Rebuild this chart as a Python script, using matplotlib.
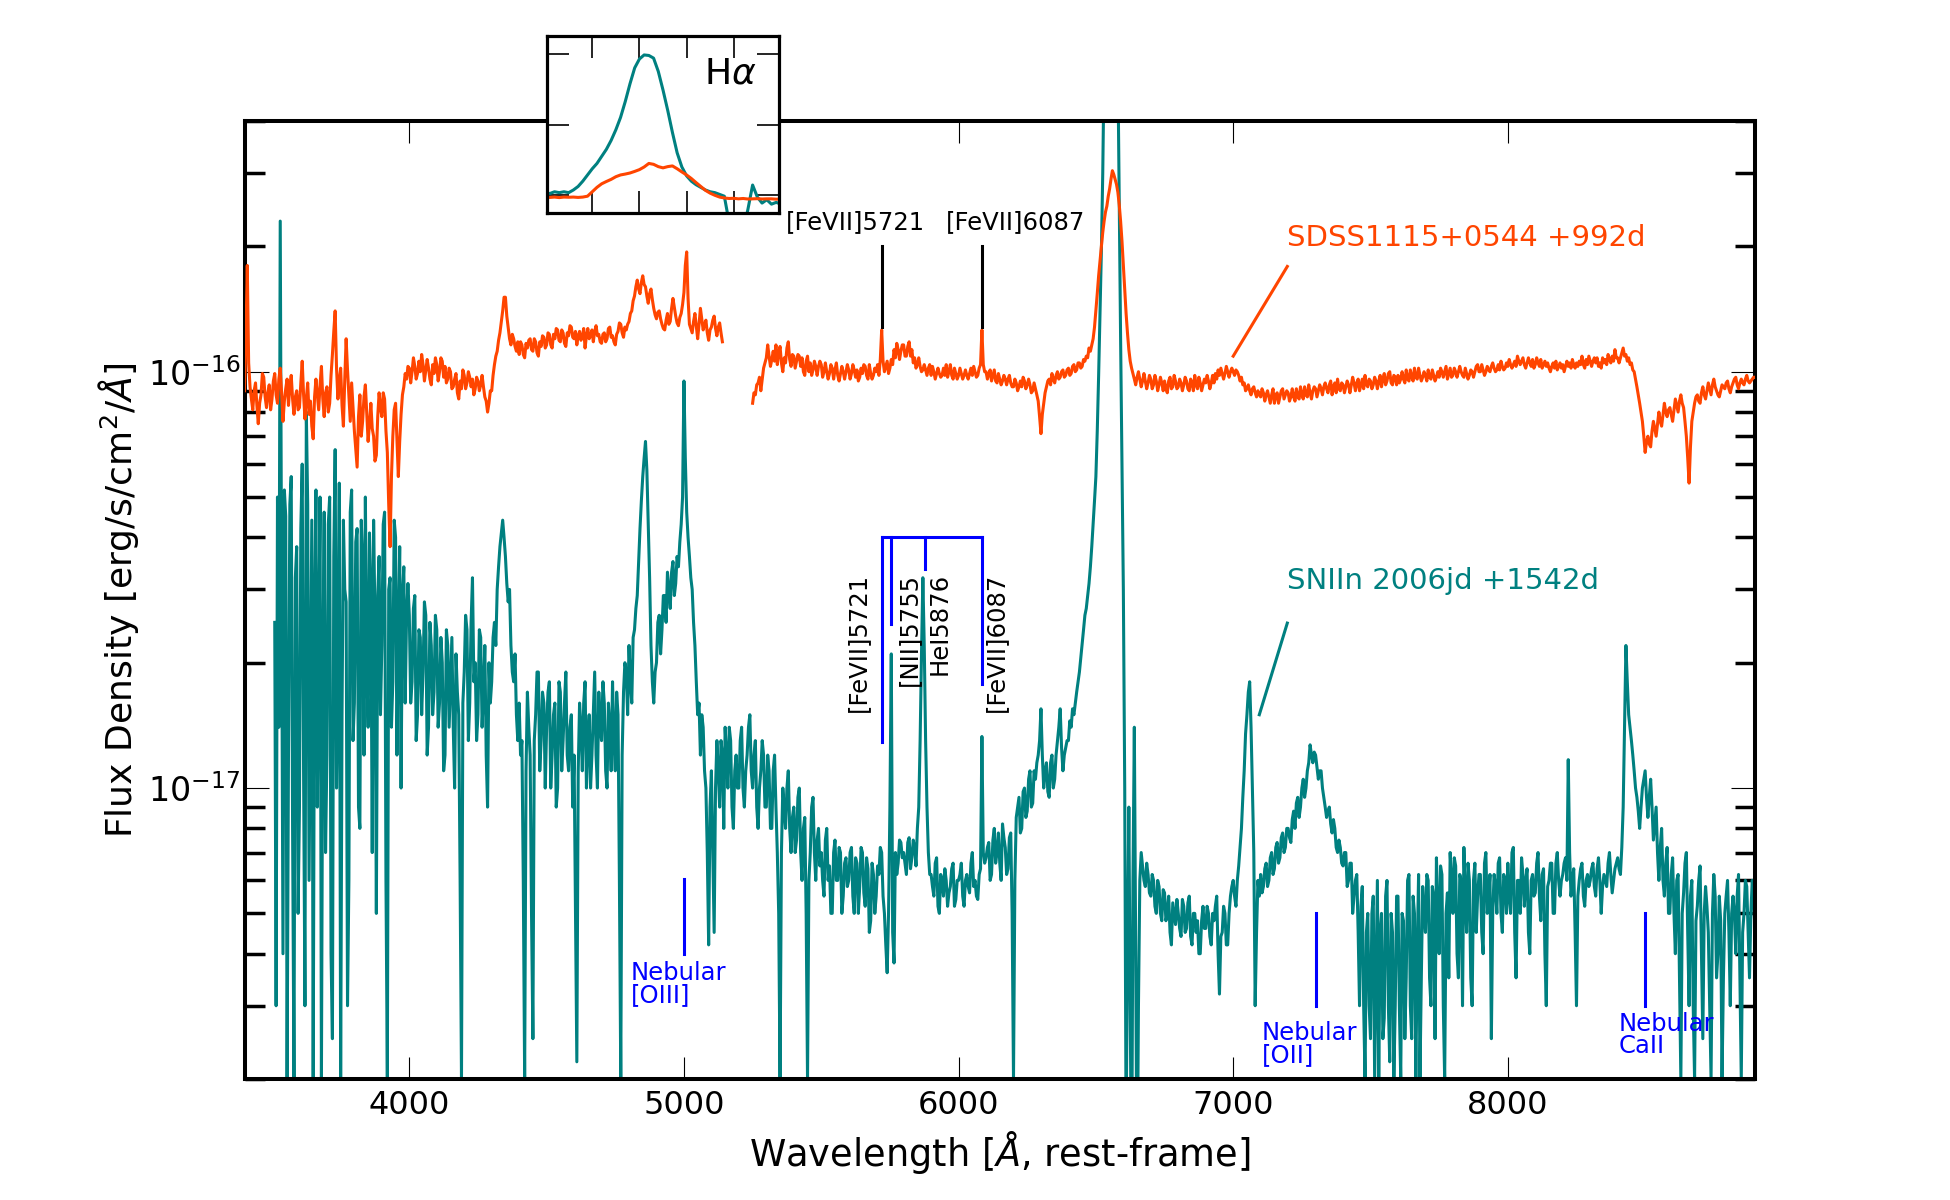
import numpy as np
import matplotlib
matplotlib.use("Agg")
import matplotlib.pyplot as plt
from matplotlib.ticker import NullFormatter

plt.rcParams["axes.unicode_minus"] = False
nan = np.nan

# ---------------- data (flux in units of 1e-17 erg/s/cm^2/A) ----------------
FLUX_UNIT = 1e-17

# SDSS1115+0544 +992d : 5 A grid starting at 3400 A (one row = 100 A)
orange_wave_start, orange_wave_step = 3400, 5
orange_flux = [
    9.0, 12.0, 18.0, 10.5, 9.2, 8.6, 8.1, 9.0, 9.4, 8.3, 7.5, 8.4, 8.8, 9.9, 9.7, 8.7, 8.2, 8.9, 9.3, 8.1,          # 3400
    8.6, 9.5, 9.9, 8.8, 8.4, 9.6, 10.2, 8.9, 7.6, 8.5, 9.1, 9.6, 8.3, 9.2, 9.8, 8.6, 7.9, 8.7, 9.0, 8.1,           # 3500
    8.2, 9.4, 10.6, 8.8, 7.7, 8.6, 9.4, 7.9, 8.5, 7.4, 6.9, 8.7, 9.6, 8.8, 8.1, 9.3, 10.3, 8.6, 7.8, 8.9,          # 3600
    9.2, 8.0, 8.4, 9.8, 11.0, 12.5, 14.0, 10.2, 8.6, 9.5, 10.2, 8.3, 7.4, 9.6, 12.0, 10.1, 8.8, 7.6, 9.4, 8.2,     # 3700
    7.2, 6.5, 5.9, 7.8, 8.8, 7.0, 7.6, 8.7, 9.3, 7.9, 6.8, 7.5, 8.4, 7.3, 7.0, 6.1, 6.3, 7.8, 8.9, 8.2,            # 3800
    7.8, 8.9, 8.6, 7.2, 6.4, 4.8, 3.8, 5.6, 7.0, 8.1, 8.4, 6.9, 5.6, 6.8, 7.9, 8.8, 9.2, 9.9, 9.6, 10.3,           # 3900
    10.2, 9.4, 10.0, 10.8, 10.3, 9.6, 9.9, 10.6, 10.0, 11.0, 10.4, 9.5, 10.1, 10.7, 10.2, 9.6, 9.3, 10.4, 9.9, 10.8,   # 4000
    10.4, 9.5, 10.0, 10.8, 10.6, 9.7, 10.3, 9.4, 9.6, 10.2, 10.0, 9.1, 9.2, 9.6, 9.9, 8.9, 8.6, 9.5, 9.1, 10.1,       # 4100
    9.8, 9.1, 9.4, 10.0, 9.7, 9.2, 9.6, 8.8, 9.1, 9.7, 9.5, 9.0, 9.3, 9.8, 9.2, 8.7, 8.5, 8.0, 8.4, 9.0,              # 4200
    9.0, 9.8, 10.4, 10.9, 11.2, 11.9, 12.4, 13.2, 14.0, 15.1, 15.1, 13.6, 12.8, 12.0, 11.6, 12.3, 12.0, 11.5, 11.2, 11.8,  # 4300
    11.0, 11.8, 11.6, 11.0, 10.8, 11.7, 11.4, 11.9, 12.0, 11.3, 11.2, 12.0, 11.8, 11.1, 10.9, 11.8, 11.5, 12.2, 12.1, 11.4,  # 4400
    11.6, 12.4, 12.3, 11.6, 11.4, 12.3, 12.0, 12.7, 12.6, 11.9, 11.8, 12.6, 12.4, 11.7, 11.5, 12.4, 12.2, 12.9, 12.8, 12.1,  # 4500
    12.0, 12.5, 11.6, 12.2, 12.5, 11.9, 12.1, 12.7, 11.4, 12.2, 12.7, 12.0, 12.2, 12.6, 11.8, 12.5, 12.9, 12.2, 12.3, 11.8,  # 4600
    11.7, 12.3, 12.4, 11.8, 12.0, 12.7, 12.8, 12.1, 12.2, 11.8, 11.6, 12.3, 12.5, 13.1, 13.0, 12.4, 12.1, 12.8, 12.6, 13.0,  # 4700
    13.2, 13.8, 14.0, 14.8, 15.2, 16.0, 16.6, 15.8, 15.4, 16.4, 17.0, 16.2, 16.0, 15.2, 14.6, 15.4, 15.8, 14.9, 14.2, 13.7,  # 4800
    13.4, 13.9, 14.0, 13.4, 13.0, 12.7, 12.6, 13.3, 13.8, 13.0, 13.2, 14.2, 15.0, 14.3, 13.6, 13.1, 12.9, 13.5, 13.8, 14.5,  # 4900
    15.5, 18.0, 19.4, 15.0, 13.0, 12.7, 12.4, 13.2, 13.8, 12.9, 12.0, 13.0, 14.2, 13.4, 12.6, 13.0, 13.3, 12.4, 11.9, 12.6,  # 5000
    12.8, 13.3, 13.6, 12.7, 12.2, 12.8, 13.1, 12.4, 11.8, nan, nan, nan, nan, nan, nan, nan, nan, nan, nan, nan,            # 5100
    nan, nan, nan, nan, nan, nan, nan, nan, nan, nan, 8.4, 8.9, 8.8, 9.3, 9.4, 9.7, 9.0, 9.6, 10.2, 10.5,                  # 5200
    10.8, 11.6, 10.9, 10.3, 10.7, 11.2, 10.6, 11.6, 10.4, 11.1, 11.5, 10.5, 10.0, 10.8, 10.5, 11.4, 11.8, 10.7, 10.3, 11.0,  # 5300
    10.9, 10.2, 10.6, 11.0, 10.9, 10.3, 10.8, 10.0, 9.8, 10.6, 10.9, 10.0, 10.5, 9.8, 10.1, 10.6, 10.3, 9.8, 10.3, 10.6,    # 5400
    10.4, 9.7, 10.0, 10.5, 10.0, 9.6, 9.9, 10.4, 10.2, 9.6, 10.1, 10.5, 9.8, 9.5, 9.9, 10.3, 10.0, 9.6, 10.0, 10.4,        # 5500
    10.1, 9.6, 9.9, 10.4, 10.1, 9.7, 10.1, 9.5, 9.7, 10.2, 9.9, 10.4, 10.3, 9.8, 9.6, 10.4, 9.9, 9.6, 9.8, 10.2,           # 5600
    10.0, 10.4, 9.8, 10.7, 12.6, 10.6, 10.0, 10.3, 10.6, 9.9, 10.2, 10.7, 10.4, 11.3, 10.8, 11.7, 11.3, 10.7, 11.2, 11.6,  # 5700
    11.6, 10.9, 10.9, 11.5, 11.8, 10.9, 11.3, 10.5, 10.8, 10.2, 10.4, 10.8, 10.3, 10.0, 10.1, 10.4, 10.1, 9.8, 10.2, 10.4, # 5800
    9.8, 10.3, 10.0, 9.6, 9.9, 10.2, 9.9, 9.7, 9.8, 10.2, 9.8, 10.4, 9.7, 10.0, 10.4, 9.8, 9.6, 10.2, 9.9, 9.6,            # 5900
    9.8, 10.2, 9.9, 9.6, 9.8, 10.1, 9.8, 9.6, 9.9, 10.2, 9.8, 10.3, 10.0, 9.7, 9.8, 10.2, 10.4, 12.6, 10.4, 10.0,          # 6000
    10.0, 9.6, 9.9, 10.1, 9.5, 9.8, 10.1, 9.5, 9.4, 9.9, 9.6, 9.3, 9.5, 9.8, 9.6, 9.3, 9.6, 9.8, 9.4, 9.2,                 # 6100
    9.2, 9.6, 9.4, 9.0, 9.2, 9.5, 9.2, 9.7, 9.5, 9.1, 9.3, 9.6, 9.3, 8.9, 9.0, 9.4, 9.1, 8.8, 8.5, 7.8,                    # 6200
    7.1, 7.9, 8.4, 8.9, 9.2, 9.5, 9.6, 9.3, 9.9, 9.6, 9.4, 9.8, 10.0, 9.6, 9.7, 10.0, 10.1, 9.7, 9.8, 10.1,                # 6300
    10.2, 9.8, 9.9, 10.3, 10.4, 10.0, 10.1, 10.5, 10.5, 10.2, 10.3, 10.7, 10.6, 10.9, 10.8, 11.4, 11.2, 11.6, 12.0, 12.8,   # 6400
    14.0, 15.4, 17.0, 18.5, 20.0, 21.6, 23.0, 24.2, 25.0, 26.4, 27.5, 29.0, 30.4, 29.8, 29.0, 28.2, 27.0, 25.2, 23.0, 20.6,  # 6500
    18.0, 15.8, 13.8, 12.4, 11.3, 10.6, 10.2, 9.9, 9.6, 9.3, 9.7, 10.0, 9.6, 9.2, 9.5, 9.9, 9.5, 9.1, 9.4, 9.8,            # 6600
    9.6, 9.1, 9.3, 9.8, 9.5, 9.0, 9.3, 9.7, 9.4, 9.0, 9.5, 9.1, 8.9, 9.5, 9.7, 9.1, 9.2, 9.8, 9.5, 9.1,                    # 6700
    9.2, 9.6, 9.4, 9.0, 9.3, 9.7, 9.5, 9.1, 9.0, 9.6, 9.4, 9.0, 9.8, 9.3, 9.1, 9.7, 9.4, 9.0, 9.3, 9.6,                    # 6800
    9.4, 9.8, 9.5, 9.1, 9.4, 9.8, 9.4, 9.9, 9.6, 10.1, 9.8, 10.2, 9.9, 9.6, 9.9, 10.3, 10.0, 9.7, 10.0, 10.2,              # 6900
    10.0, 9.8, 10.1, 10.0, 9.8, 9.5, 9.7, 9.3, 9.4, 9.0, 9.1, 9.3, 9.0, 8.8, 9.1, 9.2, 8.9, 8.7, 9.0, 8.8,                 # 7000
    8.7, 9.1, 8.9, 8.5, 8.8, 9.0, 8.7, 8.4, 8.8, 9.1, 8.4, 8.8, 8.9, 8.4, 8.7, 9.0, 9.1, 8.6, 8.8, 9.0,                    # 7100
    8.9, 8.5, 8.7, 9.1, 8.7, 8.5, 9.1, 8.7, 8.6, 9.2, 8.8, 8.6, 9.2, 8.8, 8.7, 9.3, 8.9, 8.6, 9.0, 9.2,                    # 7200
    9.1, 8.7, 9.0, 9.3, 9.1, 8.8, 9.2, 9.4, 9.1, 8.9, 9.3, 9.5, 8.8, 9.2, 9.4, 8.9, 9.6, 9.1, 9.0, 9.4,                    # 7300
    9.3, 8.9, 9.2, 9.5, 9.3, 8.9, 9.3, 9.7, 9.4, 9.0, 9.4, 9.6, 9.0, 9.3, 9.6, 9.1, 9.8, 9.3, 9.2, 9.6,                    # 7400
    9.5, 9.1, 9.3, 9.7, 9.5, 9.1, 9.5, 9.8, 9.2, 9.6, 9.9, 9.3, 9.5, 9.9, 10.0, 9.4, 9.3, 9.8, 9.7, 9.3,                   # 7500
    9.8, 9.4, 9.6, 10.0, 9.6, 9.4, 10.1, 9.6, 9.5, 10.1, 9.7, 9.5, 10.2, 9.7, 9.6, 10.2, 9.8, 9.5, 9.7, 10.0,              # 7600
    9.8, 9.5, 10.1, 9.7, 9.6, 10.1, 9.8, 9.5, 9.7, 10.0, 9.7, 10.2, 10.0, 9.7, 10.0, 10.3, 9.6, 9.9, 10.2, 9.7,            # 7700
    9.8, 10.2, 10.0, 9.7, 10.0, 10.3, 10.0, 9.8, 9.7, 10.2, 9.9, 9.6, 9.8, 10.1, 10.0, 9.7, 10.0, 10.3, 10.4, 10.0,        # 7800
    10.0, 10.4, 10.1, 9.8, 10.0, 10.3, 10.1, 10.0, 10.3, 10.5, 10.2, 10.0, 10.1, 10.4, 10.1, 10.6, 10.3, 10.1, 10.2, 10.5,  # 7900
    10.3, 10.7, 10.4, 10.2, 10.4, 10.6, 10.3, 10.9, 10.6, 10.4, 10.6, 10.8, 10.4, 10.2, 10.5, 10.8, 10.5, 10.3, 10.7, 10.2,  # 8000
    10.4, 10.8, 10.5, 10.3, 10.7, 10.2, 10.4, 10.6, 10.3, 10.5, 10.2, 10.0, 10.3, 10.5, 10.2, 10.6, 10.1, 10.3, 10.5, 10.2,  # 8100
    10.4, 10.0, 10.3, 10.6, 10.3, 10.5, 10.2, 10.7, 10.4, 10.2, 10.5, 10.3, 10.6, 10.4, 10.9, 10.4, 10.2, 10.7, 10.4, 10.9,  # 8200
    10.6, 10.3, 10.6, 10.8, 10.5, 10.8, 10.3, 10.5, 10.2, 10.8, 10.5, 10.7, 10.4, 11.0, 10.7, 10.5, 10.9, 10.6, 11.3, 10.8,  # 8300
    10.8, 10.5, 10.8, 11.1, 11.4, 10.9, 11.0, 10.6, 10.8, 10.4, 10.5, 10.1, 10.0, 9.6, 9.2, 8.8, 8.4, 8.0, 7.6, 7.0,        # 8400
    6.4, 6.8, 7.0, 6.7, 6.6, 7.2, 7.6, 7.3, 7.0, 7.5, 8.0, 7.6, 7.4, 7.9, 8.4, 8.0, 7.8, 8.1, 8.2, 7.9,                    # 8500
    7.6, 8.1, 8.6, 8.3, 8.0, 8.5, 8.8, 8.4, 8.2, 7.6, 7.0, 6.2, 5.4, 6.6, 7.6, 8.0, 8.4, 8.7, 8.8, 8.5,                    # 8600
    8.4, 8.9, 9.2, 8.8, 8.6, 9.0, 9.4, 9.1, 8.8, 9.3, 9.6, 9.2, 9.0, 8.8, 8.7, 9.0, 9.3, 9.2, 9.1, 9.4,                    # 8700
    9.5, 9.1, 8.9, 9.2, 9.4, 9.6, 9.7, 9.3, 9.1, 9.4, 9.6, 9.4, 9.3, 9.6, 9.8, 9.5, 9.4, 9.5, 9.6, 9.7,                    # 8800
    9.7,                                                                                                                   # 8900
]

# SNIIn 2006jd +1542d : 5 A grid starting at 3500 A (one row = 100 A)
teal_wave_start, teal_wave_step = 3500, 5
teal_flux = [
    nan, nan, 2.5, 0.3, 5.0, 1.4, 23.0, 3.0, 0.4, 5.2, 4.5, 0.2, 1.2, 4.8, 5.6, 0.8, 0.2, 3.2, 3.8, 0.5,      # 3500
    0.9, 4.2, 6.0, 1.1, 0.3, 8.0, 4.8, 0.6, 1.6, 4.4, 0.2, 2.6, 5.2, 0.9, 2.2, 5.0, 0.2, 1.8, 4.6, 0.7,       # 3600
    1.2, 4.3, 5.0, 0.4, 0.25, 3.6, 6.5, 1.0, 1.8, 5.4, 0.2, 1.5, 4.4, 3.0, 2.8, 0.3, 0.6, 4.6, 5.2, 1.3,      # 3700
    1.6, 3.9, 4.2, 0.9, 0.8, 4.4, 3.5, 1.2, 5.0, 2.0, 1.4, 4.1, 3.0, 0.7, 4.4, 2.5, 0.5, 2.9, 3.6, 1.5,       # 3800
    2.2, 4.3, 4.6, 0.6, 0.2, 3.0, 3.2, 1.4, 1.8, 4.4, 4.0, 1.2, 2.4, 3.8, 1.0, 2.9, 3.4, 1.6, 2.6, 3.1,       # 3900
    2.6, 1.6, 1.8, 2.7, 2.9, 1.3, 1.5, 2.4, 2.3, 1.5, 1.9, 2.8, 2.6, 1.2, 1.4, 2.5, 2.2, 1.5, 1.7, 2.6,       # 4000
    2.4, 1.4, 1.6, 2.3, 2.0, 1.1, 1.2, 2.4, 2.2, 1.4, 1.8, 2.3, 1.4, 1.0, 2.1, 1.7, 1.5, 0.6, 0.2, 1.6,       # 4100
    1.9, 2.6, 2.4, 1.3, 1.6, 2.5, 3.2, 1.8, 2.0, 1.3, 1.5, 2.4, 2.3, 1.4, 1.7, 2.2, 1.2, 0.9, 2.0, 1.6,       # 4200
    1.8, 2.3, 2.5, 2.2, 3.0, 3.4, 3.8, 4.1, 4.4, 4.0, 3.6, 3.1, 2.8, 3.0, 2.2, 1.9, 1.8, 2.1, 1.5, 1.3,       # 4300
    1.6, 1.2, 1.3, 0.6, 0.2, 1.1, 1.7, 1.4, 1.2, 0.5, 0.25, 1.3, 1.5, 1.9, 1.9, 1.1, 1.3, 1.7, 1.6, 1.0,      # 4400
    1.4, 1.7, 1.8, 1.0, 1.2, 1.5, 1.6, 0.9, 1.0, 1.8, 1.7, 1.1, 1.3, 1.6, 1.9, 1.2, 1.1, 1.4, 1.5, 0.9,       # 4500
    1.2, 0.5, 0.22, 1.1, 1.6, 1.4, 1.1, 1.6, 1.8, 1.0, 1.3, 1.5, 1.0, 1.2, 1.5, 1.9, 1.2, 1.0, 1.7, 1.4,      # 4600
    1.3, 1.8, 1.6, 1.1, 1.0, 1.6, 1.4, 1.1, 1.8, 1.3, 1.1, 1.7, 1.5, 0.6, 0.2, 1.2, 1.7, 2.0, 1.9, 1.5,       # 4700
    2.2, 1.8, 1.6, 2.3, 2.4, 2.7, 2.9, 3.5, 4.2, 4.9, 5.6, 6.2, 6.8, 5.8, 4.3, 3.2, 2.2, 1.8, 1.6, 1.9,       # 4800
    2.0, 2.5, 2.6, 2.1, 2.4, 2.9, 2.9, 2.5, 3.3, 3.0, 2.7, 3.3, 3.5, 2.9, 3.1, 3.6, 3.4, 3.9, 4.3, 5.0,       # 4900
    9.5, 6.2, 4.6, 4.0, 3.6, 3.2, 3.0, 2.5, 2.2, 1.8, 1.5, 1.6, 1.2, 1.5, 1.4, 1.1, 1.0, 0.7, 0.42, 0.9,      # 5000
    1.1, 0.7, 0.45, 1.0, 1.3, 1.1, 0.9, 1.3, 1.2, 0.8, 1.4, 1.2, 1.0, 1.4, 1.3, 0.9, 0.8, 1.1, 1.2, 1.0,      # 5100
    1.0, 1.3, 1.4, 1.0, 0.9, 1.1, 1.2, 1.4, 1.5, 1.1, 1.0, 1.2, 1.3, 0.9, 0.8, 1.0, 1.1, 1.3, 1.2, 0.9,       # 5200
    0.9, 1.2, 1.1, 0.8, 0.8, 1.1, 1.2, 0.9, 0.7, 0.5, 0.2, 0.7, 1.0, 0.9, 0.8, 1.0, 1.1, 0.8, 0.7, 0.85,      # 5300
    0.9, 0.7, 0.75, 0.95, 1.0, 0.7, 0.6, 0.8, 0.85, 0.5, 0.2, 0.6, 0.7, 0.9, 0.95, 0.7, 0.6, 0.75, 0.8, 0.65, # 5400
    0.7, 0.6, 0.55, 0.75, 0.8, 0.6, 0.65, 0.5, 0.5, 0.7, 0.75, 0.6, 0.6, 0.72, 0.7, 0.5, 0.55, 0.66, 0.68, 0.58,  # 5500
    0.6, 0.7, 0.72, 0.55, 0.5, 0.68, 0.66, 0.5, 0.58, 0.72, 0.7, 0.56, 0.52, 0.68, 0.64, 0.45, 0.48, 0.66, 0.62, 0.5,  # 5600
    0.55, 0.65, 0.62, 0.72, 0.7, 0.55, 0.5, 0.42, 0.36, 0.5, 0.9, 2.1, 0.45, 0.38, 0.7, 0.62, 0.66, 0.75, 0.74, 0.68,  # 5700
    0.7, 0.66, 0.62, 0.74, 0.76, 0.64, 0.68, 0.75, 0.72, 0.65, 0.8, 0.9, 1.3, 2.1, 3.2, 2.2, 1.3, 0.9, 0.7, 0.62,      # 5800
    0.62, 0.58, 0.55, 0.66, 0.68, 0.52, 0.5, 0.62, 0.6, 0.55, 0.64, 0.6, 0.52, 0.56, 0.58, 0.64, 0.66, 0.52, 0.54, 0.6,  # 5900
    0.6, 0.62, 0.66, 0.55, 0.52, 0.6, 0.62, 0.58, 0.56, 0.66, 0.7, 0.58, 0.6, 0.55, 0.54, 0.62, 0.64, 1.33, 0.7, 0.66,   # 6000
    0.68, 0.72, 0.74, 0.6, 0.62, 0.75, 0.8, 0.66, 0.7, 0.78, 0.66, 0.6, 0.82, 0.76, 0.72, 0.62, 0.64, 0.76, 0.78, 0.5,  # 6100
    0.2, 0.6, 0.85, 0.9, 0.95, 0.78, 0.8, 0.98, 1.0, 0.85, 0.88, 1.05, 1.1, 0.9, 0.92, 1.1, 1.05, 1.15, 1.2, 1.3,       # 6200
    1.55, 1.2, 1.0, 1.1, 1.15, 0.98, 0.95, 1.15, 1.2, 1.0, 1.05, 1.2, 1.3, 1.4, 1.55, 1.25, 1.1, 1.2, 1.25, 1.3,        # 6300
    1.3, 1.45, 1.4, 1.55, 1.5, 1.6, 1.7, 1.8, 1.9, 2.05, 2.2, 2.4, 2.6, 2.7, 2.9, 3.1, 3.4, 3.8, 4.3, 4.9,             # 6400
    5.6, 7.2, 9.8, 14.0, 19.5, 30.0, 55.0, 75.0, 90.0, 96.0, 100.0, 105.0, 110.0, 104.0, 95.0, 78.0, 55.0, 25.0, 12.0, 6.0,  # 6500
    3.0, 1.0, 0.15, 0.4, 0.9, 0.3, 0.1, 0.6, 1.4, 0.4, 0.1, 0.3, 0.6, 0.7, 0.65, 0.6, 0.58, 0.66, 0.62, 0.56,            # 6600
    0.55, 0.62, 0.6, 0.52, 0.5, 0.6, 0.58, 0.5, 0.48, 0.57, 0.56, 0.48, 0.5, 0.55, 0.45, 0.42, 0.53, 0.5, 0.47, 0.54,    # 6700
    0.5, 0.46, 0.44, 0.54, 0.52, 0.45, 0.46, 0.53, 0.55, 0.44, 0.42, 0.5, 0.5, 0.45, 0.48, 0.4, 0.4, 0.48, 0.52, 0.46,   # 6800
    0.46, 0.52, 0.5, 0.44, 0.42, 0.5, 0.48, 0.52, 0.55, 0.4, 0.32, 0.44, 0.45, 0.52, 0.5, 0.42, 0.42, 0.5, 0.55, 0.58,   # 6900
    0.6, 0.55, 0.52, 0.6, 0.65, 0.72, 0.8, 0.95, 1.1, 1.35, 1.5, 1.7, 1.8, 1.4, 1.0, 0.7, 0.3, 0.45, 0.6, 0.55,         # 7000
    0.62, 0.56, 0.58, 0.64, 0.66, 0.58, 0.6, 0.68, 0.7, 0.62, 0.64, 0.72, 0.74, 0.66, 0.68, 0.76, 0.78, 0.7, 0.72, 0.8,  # 7100
    0.8, 0.76, 0.74, 0.84, 0.88, 0.8, 0.92, 0.95, 0.85, 0.9, 1.0, 1.05, 0.95, 1.0, 1.1, 1.15, 1.27, 1.2, 1.15, 1.22,     # 7200
    1.2, 1.12, 1.05, 1.1, 1.1, 1.0, 0.95, 0.9, 0.85, 0.88, 0.9, 0.82, 0.78, 0.84, 0.8, 0.72, 0.7, 0.75, 0.72, 0.66,      # 7300
    0.65, 0.7, 0.7, 0.58, 0.6, 0.66, 0.66, 0.5, 0.55, 0.6, 0.62, 0.45, 0.3, 0.52, 0.58, 0.3, 0.2, 0.45, 0.5, 0.3,        # 7400
    0.25, 0.5, 0.55, 0.2, 0.35, 0.6, 0.2, 0.45, 0.5, 0.25, 0.28, 0.55, 0.6, 0.3, 0.22, 0.5, 0.45, 0.2, 0.3, 0.55,        # 7500
    0.55, 0.3, 0.2, 0.5, 0.48, 0.25, 0.35, 0.6, 0.62, 0.3, 0.25, 0.55, 0.5, 0.2, 0.4, 0.62, 0.2, 0.35, 0.58, 0.5,        # 7600
    0.45, 0.62, 0.6, 0.35, 0.3, 0.58, 0.55, 0.25, 0.68, 0.5, 0.4, 0.65, 0.62, 0.3, 0.2, 0.5, 0.56, 0.35, 0.7, 0.6,       # 7700
    0.5, 0.68, 0.65, 0.4, 0.35, 0.62, 0.6, 0.3, 0.72, 0.55, 0.45, 0.66, 0.6, 0.35, 0.3, 0.6, 0.66, 0.45, 0.55, 0.62,     # 7800
    0.62, 0.45, 0.4, 0.66, 0.7, 0.5, 0.55, 0.62, 0.25, 0.5, 0.62, 0.58, 0.5, 0.66, 0.68, 0.5, 0.45, 0.62, 0.6, 0.5,      # 7900
    0.66, 0.55, 0.5, 0.7, 0.72, 0.45, 0.35, 0.6, 0.6, 0.5, 0.68, 0.62, 0.52, 0.6, 0.64, 0.45, 0.4, 0.6, 0.62, 0.55,      # 8000
    0.56, 0.66, 0.7, 0.55, 0.48, 0.62, 0.64, 0.4, 0.3, 0.58, 0.6, 0.66, 0.66, 0.5, 0.5, 0.66, 0.7, 0.6, 0.55, 0.6,       # 8100
    0.62, 0.66, 0.68, 0.6, 1.17, 0.7, 0.55, 0.6, 0.64, 0.45, 0.3, 0.55, 0.6, 0.64, 0.66, 0.55, 0.52, 0.6, 0.62, 0.58,    # 8200
    0.6, 0.64, 0.66, 0.58, 0.55, 0.64, 0.68, 0.6, 0.5, 0.58, 0.62, 0.6, 0.58, 0.66, 0.7, 0.62, 0.56, 0.6, 0.64, 0.66,    # 8300
    0.68, 0.64, 0.62, 0.72, 0.9, 1.4, 2.2, 1.8, 1.5, 1.4, 1.3, 1.2, 1.1, 1.0, 0.95, 0.88, 0.8, 0.9, 1.0, 1.05,           # 8400
    1.1, 0.95, 0.85, 0.95, 1.05, 0.9, 0.75, 0.82, 0.9, 0.7, 0.6, 0.72, 0.8, 0.6, 0.55, 0.66, 0.72, 0.5, 0.5, 0.62,       # 8500
    0.68, 0.5, 0.4, 0.6, 0.62, 0.35, 0.2, 0.5, 0.56, 0.66, 0.7, 0.45, 0.3, 0.55, 0.6, 0.3, 0.2, 0.48, 0.52, 0.6,         # 8600
    0.65, 0.4, 0.25, 0.5, 0.58, 0.52, 0.45, 0.3, 0.2, 0.5, 0.62, 0.55, 0.35, 0.4, 0.55, 0.48, 0.2, 0.35, 0.5, 0.55,      # 8700
    0.6, 0.45, 0.3, 0.5, 0.55, 0.5, 0.4, 0.55, 0.62, 0.35, 0.2, 0.45, 0.5, 0.6, 0.58, 0.45, 0.35, 0.5, 0.6, 0.55,        # 8800
    0.45,                                                                                                               # 8900
]

# H-alpha inset (normalised flux), 5 A grid from 6450 A
inset_wave_start, inset_wave_step = 6450, 5
inset_teal = [
    0.115, 0.11, 0.12, 0.115, 0.12, 0.115, 0.13, 0.15, 0.18, 0.215,
    0.25, 0.28, 0.32, 0.36, 0.41, 0.47, 0.54, 0.63, 0.73, 0.82,
    0.87, 0.893, 0.89, 0.875, 0.80, 0.695, 0.58, 0.455, 0.34, 0.26,
    0.21, 0.18, 0.16, 0.145, 0.13, 0.12, 0.115, 0.105, 0.095, -0.05,
    -0.1, -0.1, -0.1, 0.02, 0.158, 0.09, 0.056, 0.075, 0.05, 0.06, 0.05,
]
inset_orange = [
    0.09, 0.088, 0.09, 0.087, 0.09, 0.089, 0.09, 0.088, 0.09, 0.095,
    0.12, 0.145, 0.165, 0.178, 0.19, 0.205, 0.215, 0.22, 0.226, 0.235,
    0.245, 0.26, 0.28, 0.275, 0.262, 0.255, 0.262, 0.266, 0.25, 0.232,
    0.215, 0.195, 0.172, 0.15, 0.128, 0.112, 0.10, 0.09, 0.085, 0.082,
    0.083, 0.08, 0.082, 0.079, 0.08, 0.081, 0.079, 0.08, 0.08, 0.078, 0.079,
]

x_ticks = [4000, 5000, 6000, 7000, 8000]
inset_x_ticks = [6500, 6550, 6600, 6650]
inset_y_ticks = [0.1, 0.5, 0.9]

# line identifications
top_line_waves = [5721, 6087]
top_line_labels = ["[FeVII]5721", "[FeVII]6087"]
top_label_x = [5626, 6207]
bracket_waves = [5721, 5755, 5876, 6087]
bracket_bottoms = [1.29e-17, 2.48e-17, 3.36e-17, 1.78e-17]
bracket_labels = ["[FeVII]5721", "[NII]5755", "HeI5876", "[FeVII]6087"]
bracket_label_x = [5633, 5818, 5931, 6135]
nebular_waves = [5000, 7300, 8498]
nebular_top = [6.05e-18, 5.0e-18, 5.0e-18]
nebular_bottom = [4.0e-18, 3.0e-18, 3.0e-18]
nebular_labels = ["Nebular\n[OIII]", "Nebular\n[OII]", "Nebular\nCaII"]
nebular_label_x = [4807, 7103, 8402]
nebular_label_y = [3.84e-18, 2.75e-18, 2.90e-18]

ORANGE = "#ff4500"
TEAL = "#008080"
BLUE = "#0000ff"

# ---------------- figure ----------------
fig = plt.figure(figsize=(19.5, 12), dpi=100)
ax = fig.add_axes([0.1254, 0.1008, 0.7746, 0.7983])

o_flux = np.array(orange_flux) * FLUX_UNIT
o_wave = orange_wave_start + orange_wave_step * np.arange(len(o_flux))
t_flux = np.array(teal_flux) * FLUX_UNIT
t_wave = teal_wave_start + teal_wave_step * np.arange(len(t_flux))

ax.plot(t_wave, t_flux, color=TEAL, lw=2.2, zorder=2)
ax.plot(o_wave, o_flux, color=ORANGE, lw=2.2, zorder=3)

ax.set_yscale("log")
ax.set_xlim(3400, 8900)
ax.set_ylim(2e-18, 4e-16)
ax.set_xticks(x_ticks)
ax.set_xticklabels([str(v) for v in x_ticks])
ax.yaxis.set_minor_formatter(NullFormatter())

ax.tick_params(axis="both", which="both", direction="in", top=True, right=True)
ax.tick_params(axis="x", which="major", length=16, width=0.8, labelsize=23, pad=8)
ax.tick_params(axis="y", which="major", length=17, width=0.8, labelsize=24, pad=3)
ax.tick_params(axis="y", which="minor", length=14.5, width=2.5)
for sp in ax.spines.values():
    sp.set_linewidth(2.9)

ax.set_xlabel(r"Wavelength [$\AA$, rest-frame]", fontsize=26.5, labelpad=6)
ax.set_ylabel(r"Flux Density [erg/s/cm$^2$/$\AA$]", fontsize=26, labelpad=5)

# FeVII marks above SDSS spectrum
for w, lab, lx in zip(top_line_waves, top_line_labels, top_label_x):
    ax.plot([w, w], [1.28e-16, 2.01e-16], color="k", lw=2.2, zorder=4)
    ax.text(lx, 2.29e-16, lab, fontsize=17.5, ha="center", va="center")

# bracket of lines on the SN spectrum
ax.plot([bracket_waves[0], bracket_waves[-1]], [4.0e-17, 4.0e-17], color=BLUE, lw=2.2, zorder=4)
for w, yb in zip(bracket_waves, bracket_bottoms):
    ax.plot([w, w], [yb, 4.0e-17], color=BLUE, lw=2.2, zorder=4)
for lx, lab in zip(bracket_label_x, bracket_labels):
    ax.text(lx, 3.29e-17, lab, rotation=90, fontsize=17.5, ha="center", va="top")

# nebular lines
for w, yt, yb, lab, lx, ly in zip(nebular_waves, nebular_top, nebular_bottom,
                                  nebular_labels, nebular_label_x, nebular_label_y):
    ax.plot([w, w], [yb, yt], color=BLUE, lw=2.2, zorder=4)
    ax.text(lx, ly, lab, color=BLUE, fontsize=17.5, ha="left", va="top", linespacing=0.9)

# spectrum labels with pointers
ax.plot([7000, 7197], [1.09e-16, 1.79e-16], color=ORANGE, lw=2.2, zorder=4)
ax.text(7197, 2.10e-16, "SDSS1115+0544 +992d", color=ORANGE, fontsize=21,
        ha="left", va="center")
ax.plot([7095, 7197], [1.50e-17, 2.49e-17], color=TEAL, lw=2.2, zorder=4)
ax.text(7197, 3.15e-17, "SNIIn 2006jd +1542d", color=TEAL, fontsize=21,
        ha="left", va="center")

# ---------------- inset ----------------
axin = fig.add_axes([0.2805, 0.8225, 0.119, 0.1475])
axin.set_zorder(5)
iw = inset_wave_start + inset_wave_step * np.arange(len(inset_teal))
axin.plot(iw, inset_teal, color=TEAL, lw=2.2)
axin.plot(iw, inset_orange, color=ORANGE, lw=2.2)
axin.set_xlim(6452, 6698)
axin.set_ylim(0, 1)
axin.set_xticks(inset_x_ticks)
axin.set_yticks(inset_y_ticks)
axin.tick_params(axis="both", which="both", direction="in", top=True, right=True,
                 length=16, width=1.2, labelbottom=False, labelleft=False)
for sp in axin.spines.values():
    sp.set_linewidth(2.3)
axin.text(0.79, 0.79, r"H$\alpha$", transform=axin.transAxes, fontsize=26,
          ha="center", va="center")

fig.savefig("out.png", dpi=100)
